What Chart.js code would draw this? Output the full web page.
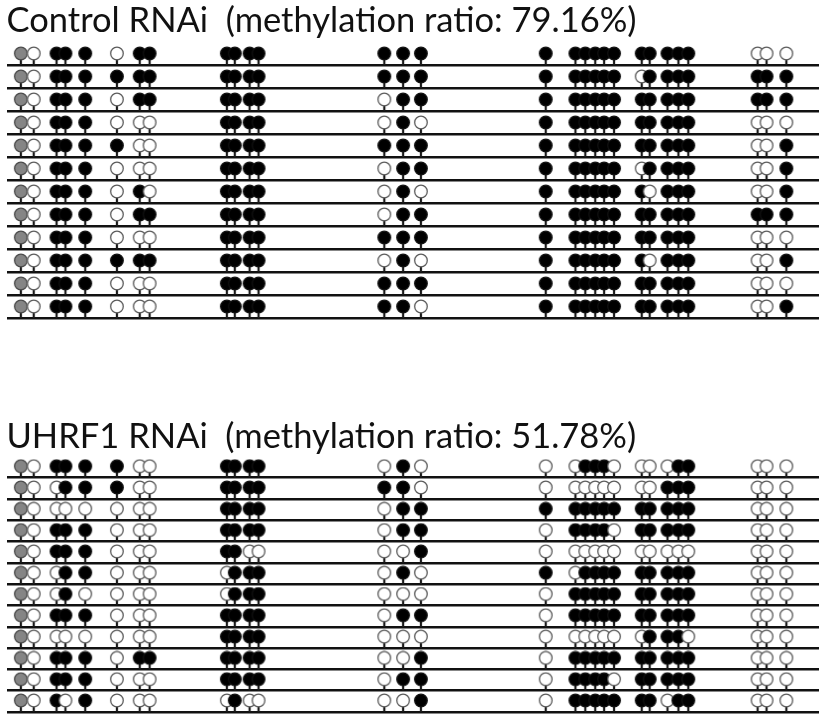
<!DOCTYPE html>
<html>
<head>
<meta charset="utf-8">
<title>Bisulfite sequencing - Control vs UHRF1 RNAi</title>
<script src="https://cdn.jsdelivr.net/npm/chart.js@4.4.1/dist/chart.umd.min.js"></script>
<style>
  html, body { margin: 0; padding: 0; background: #ffffff; }
  .wrapper { position: relative; width: 826px; height: 719px; overflow: hidden; }
  #controlChart { position: absolute; left: 0; top: 0; }
  #uhrf1Chart { position: absolute; left: 0; top: 405px; }
</style>
</head>
<body>
<div class="wrapper">
  <canvas id="controlChart" width="826" height="330"></canvas>
  <canvas id="uhrf1Chart" width="826" height="314"></canvas>
</div>
<script>
// CpG site positions along the amplicon (bp)
var cpgPositions = [14, 27, 50, 59, 79, 111, 134, 144, 222, 230, 245, 254, 381, 400, 418,
  544, 574, 584, 594, 603, 613, 641, 649, 667, 678, 688, 758, 767, 787];
var ampliconLength = 820;

// One string per clone: 1 = methylated, 0 = unmethylated, - = not determined
var controlClones = [
  "-0 11 1 0 11 1111 111 1 11111 11 111 00 0",
  "-0 11 1 1 11 1111 111 1 11111 01 111 11 1",
  "-0 11 1 0 11 1111 011 1 11111 11 111 11 1",
  "-0 11 1 0 00 1111 010 1 11111 11 111 00 0",
  "-0 11 1 1 00 1111 111 1 11111 11 111 00 1",
  "-0 11 1 0 00 1111 011 1 11111 01 111 00 1",
  "-0 11 1 0 10 1111 010 1 11111 10 111 00 1",
  "-0 11 1 0 11 1111 011 1 11111 11 111 11 1",
  "-0 11 1 0 00 1111 111 1 11111 11 111 00 0",
  "-0 11 1 1 11 1111 010 1 11111 10 111 00 1",
  "-0 11 1 0 00 1111 111 1 11111 11 111 00 0",
  "-0 11 1 0 00 1111 110 1 11111 11 111 00 1",
];
var uhrf1Clones = [
  "-0 11 1 1 00 1111 010 0 01110 00 011 00 0",
  "-0 01 1 1 00 1111 110 0 00000 00 111 00 0",
  "-0 00 0 0 00 1111 011 1 11111 11 111 00 0",
  "-0 11 1 0 00 1111 011 0 11110 11 111 00 0",
  "-0 11 1 0 00 1100 001 0 00000 00 000 00 0",
  "-0 01 1 0 00 0111 010 1 01111 11 111 00 0",
  "-0 01 0 0 00 0111 000 0 11111 11 111 00 0",
  "-0 11 1 0 00 1111 011 0 11111 11 111 00 0",
  "-0 00 0 0 00 1111 000 0 00000 01 110 00 0",
  "-0 11 1 0 11 1111 001 0 11111 11 111 00 0",
  "-0 11 1 0 00 1111 011 0 11110 11 111 00 0",
  "-0 10 1 0 00 0100 001 0 11111 11 011 00 0",
];

var controlTitle = "Control RNAi  (methylation ratio: 79.16%)";
var uhrf1Title = "UHRF1 RNAi  (methylation ratio: 51.78%)";

// Lollipop marker: circle on a short stem, stem foot at the image centre
function makeLollipop(fill, stroke) {
  var c = document.createElement("canvas");
  c.width = 16;
  c.height = 38;
  var g = c.getContext("2d");
  g.fillStyle = "#1a1a1a";
  g.fillRect(6.9, 13, 2.2, 6);
  g.beginPath();
  g.arc(8, 7.5, 6.3, 0, Math.PI * 2);
  g.fillStyle = fill;
  g.fill();
  g.lineWidth = 1.3;
  g.strokeStyle = stroke;
  g.stroke();
  return c;
}
var lollipops = {
  "1": makeLollipop("#000000", "#111111"),
  "0": makeLollipop("#ffffff", "#5a5a5a"),
  "-": makeLollipop("#858585", "#4a4a4a"),
};

function clonePoints(clones) {
  var points = [];
  clones.forEach(function (row, r) {
    var states = row.replace(/ /g, "");
    for (var i = 0; i < states.length; i++) {
      points.push({ x: cpgPositions[i], y: r + 1, state: states[i] });
    }
  });
  return points;
}

function buildChart(canvasId, clones, title, pad) {
  var ctx = document.getElementById(canvasId).getContext("2d");
  return new Chart(ctx, {
    type: "scatter",
    data: {
      datasets: [
        {
          data: clonePoints(clones),
          pointRadius: 6,
          pointStyle: function (context) {
            return lollipops[context.raw.state];
          },
          clip: false,
        },
      ],
    },
    options: {
      responsive: false,
      animation: false,
      events: [],
      layout: {
        padding: { left: 6.5, right: 0, top: 0, bottom: pad.bottom },
      },
      plugins: {
        legend: { display: false },
        tooltip: { enabled: false },
        title: {
          display: true,
          text: title,
          align: "start",
          color: "#111111",
          font: { family: "Lato", size: 34.5, weight: "normal" },
          padding: { top: pad.titleTop, bottom: pad.titleBottom },
        },
      },
      scales: {
        x: {
          type: "linear",
          display: false,
          min: 0,
          max: ampliconLength,
        },
        y: {
          type: "linear",
          reverse: true,
          min: 1,
          max: clones.length,
          ticks: { display: false, stepSize: 1 },
          grid: { color: "#111111", lineWidth: 2.6, drawTicks: false },
          border: { display: false },
        },
      },
    },
  });
}

var controlChart = buildChart("controlChart", controlClones, controlTitle, {
  titleTop: 0,
  titleBottom: 23.6,
  bottom: 12,
});
var uhrf1Chart = buildChart("uhrf1Chart", uhrf1Clones, uhrf1Title, {
  titleTop: 11.3,
  titleBottom: 20,
  bottom: 2.3,
});
</script>
</body>
</html>
